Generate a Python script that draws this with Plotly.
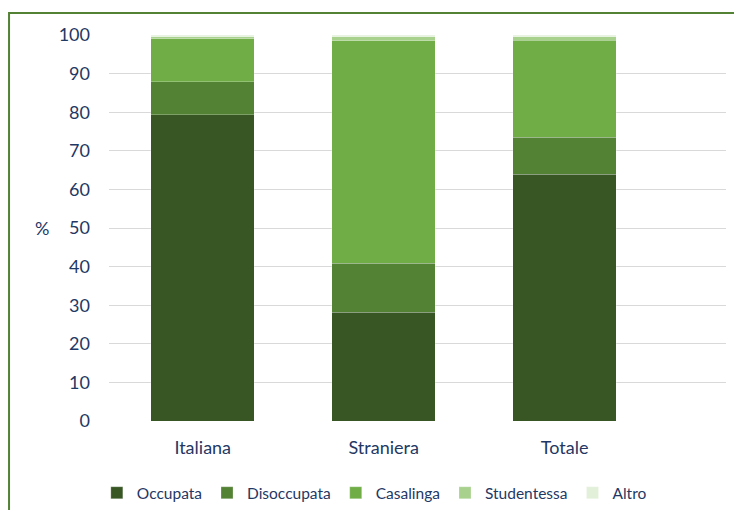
import plotly.graph_objects as go

categories = ["Italiana", "Straniera", "Totale"]
occupata = [79.4, 28.2, 63.9]
disoccupata = [8.5, 12.7, 9.6]
casalinga = [11.1, 57.6, 25.2]
studentessa = [0.5, 1.0, 0.8]
altro = [0.5, 0.5, 0.5]
series_names = ["Occupata", "Disoccupata", "Casalinga", "Studentessa", "Altro"]
series_values = [occupata, disoccupata, casalinga, studentessa, altro]
colors = ["#375623", "#548235", "#70AD47", "#A9D18E", "#E2F0D9"]
y_ticks = list(range(0, 101, 10))

FONT = "Lato"
TXT = "#1F3864"

fig = go.Figure()
for name, vals, col in zip(series_names, series_values, colors):
    fig.add_trace(go.Bar(
        x=categories, y=vals, name=name, width=0.572,
        marker=dict(color=col, line=dict(color="rgba(255,255,255,0.35)", width=0.7)),
    ))

fig.update_layout(
    barmode="stack",
    width=734, height=510,
    margin=dict(l=109, r=8, t=35, b=89),
    paper_bgcolor="white", plot_bgcolor="white",
    font=dict(family=FONT, size=18, color=TXT),
    showlegend=True,
    legend=dict(orientation="h", xref="container", yref="container",
                x=0.51, xanchor="center", y=0.033, yanchor="middle",
                font=dict(family=FONT, size=15.5, color=TXT),
                itemwidth=30, traceorder="normal"),
    xaxis=dict(type="category", range=[-0.518, 2.892], showgrid=False,
               showline=False, zeroline=False, ticks="",
               ticklabelstandoff=14, tickfont=dict(size=18, color=TXT)),
    yaxis=dict(range=[0, 100], tickvals=y_ticks, showgrid=True,
               gridcolor="#D9D9D9", gridwidth=1, zeroline=False,
               showline=False, ticks="", ticklabelstandoff=18,
               tickfont=dict(size=18, color=TXT)),
    shapes=[dict(type="rect", xref="paper", yref="paper",
                 x0=-0.162, x1=1.03, y0=-0.3, y1=1.057,
                 line=dict(color="#548235", width=2), fillcolor="rgba(0,0,0,0)",
                 layer="below")],
    annotations=[dict(text="%", xref="paper", yref="y", x=-0.109, y=50,
                      showarrow=False, font=dict(family=FONT, size=18, color=TXT),
                      xanchor="center", yanchor="middle")],
)

fig.write_html("out.html", config={"displayModeBar": False},
               post_script="document.body.style.margin='0';")
